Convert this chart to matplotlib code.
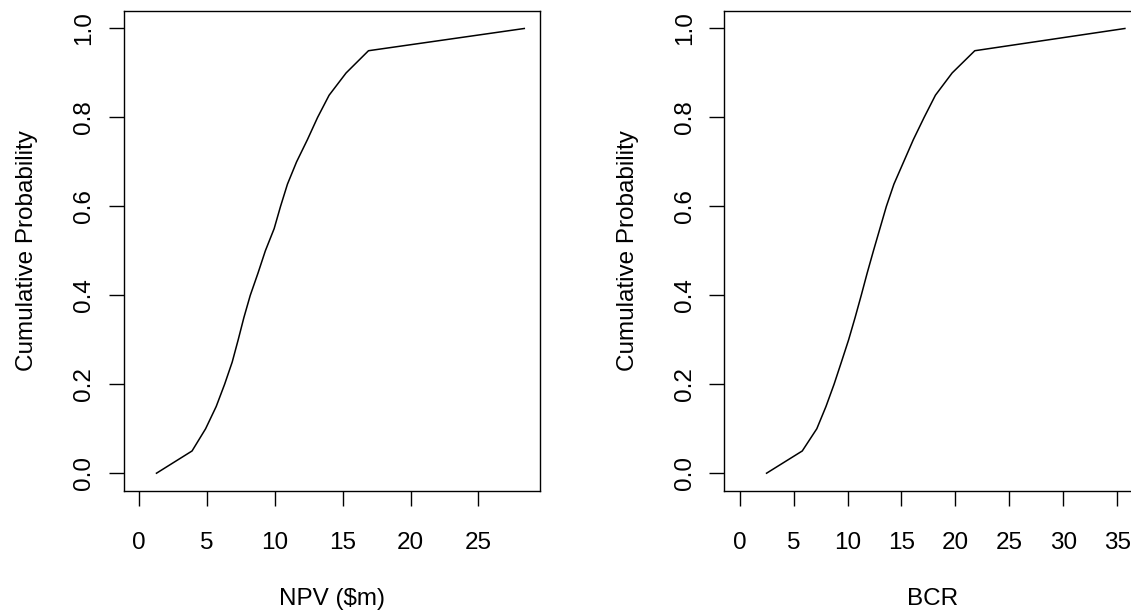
import numpy as np
import matplotlib
matplotlib.use("Agg")
from matplotlib import pyplot as plt

plt.rcParams['font.family'] = ['Liberation Sans', 'DejaVu Sans']

# cumulative probability levels (shared by both panels)
prob = [0.0, 0.05, 0.10, 0.15, 0.20, 0.25, 0.30, 0.35, 0.40, 0.45, 0.50,
        0.55, 0.60, 0.65, 0.70, 0.75, 0.80, 0.85, 0.90, 0.95, 1.0]

# NPV ($m) values
npv = [1.28, 3.9, 4.9, 5.68, 6.3, 6.86, 7.3, 7.72, 8.19, 8.76, 9.3,
       9.95, 10.42, 10.93, 11.6, 12.4, 13.15, 14.0, 15.25, 16.9, 28.38]

# BCR values
bcr = [2.49, 5.8, 7.15, 8.0, 8.75, 9.43, 10.1, 10.7, 11.27, 11.82, 12.4,
       13.0, 13.6, 14.3, 15.2, 16.1, 17.1, 18.15, 19.7, 21.8, 35.72]

npv_ticks = [0, 5, 10, 15, 20, 25]
bcr_ticks = [0, 5, 10, 15, 20, 25, 30, 35]
prob_ticks = [0.0, 0.2, 0.4, 0.6, 0.8, 1.0]

W, H = 1131, 616
fig = plt.figure(figsize=(W / 100, H / 100), dpi=100, facecolor='w')

ax_w = 416 / W
ax_h = 480.3 / H
bottom = (H - 491) / H


def r_pad(lo, hi):
    # R style 4% extension of the axis range
    d = (hi - lo) * 0.04
    return lo - d, hi + d


def draw_panel(ax, xs, ys, xticks, xlabel):
    ax.plot(xs, ys, color='black', lw=1.1)
    ax.set_xlim(*r_pad(0, max(xs)))
    ax.set_ylim(*r_pad(0, 1))
    ax.set_xticks(xticks)
    ax.set_xticklabels([str(t) for t in xticks])
    ax.set_yticks(prob_ticks)
    ax.set_yticklabels(['%.1f' % t for t in prob_ticks], rotation=90,
                       va='center')
    ax.tick_params(axis='x', direction='out', length=10.5, width=1.0,
                   labelsize=17.5, pad=19)
    ax.tick_params(axis='y', direction='out', length=10.5, width=1.0,
                   labelsize=17.5, pad=10)
    for s in ax.spines.values():
        s.set_linewidth(1.0)
    ax.set_xlabel(xlabel, fontsize=17.5)
    ax.xaxis.set_label_coords(0.5, -0.202)
    ax.set_ylabel('Cumulative Probability', fontsize=17.5)
    ax.yaxis.set_label_coords(-0.206, 0.5)


ax1 = fig.add_axes([123.7 / W, bottom, ax_w, ax_h])
draw_panel(ax1, npv, prob, npv_ticks, 'NPV ($m)')

ax2 = fig.add_axes([724.3 / W, bottom, ax_w, ax_h])
draw_panel(ax2, bcr, prob, bcr_ticks, 'BCR')

plt.savefig('out.png', dpi=100, facecolor='w')
